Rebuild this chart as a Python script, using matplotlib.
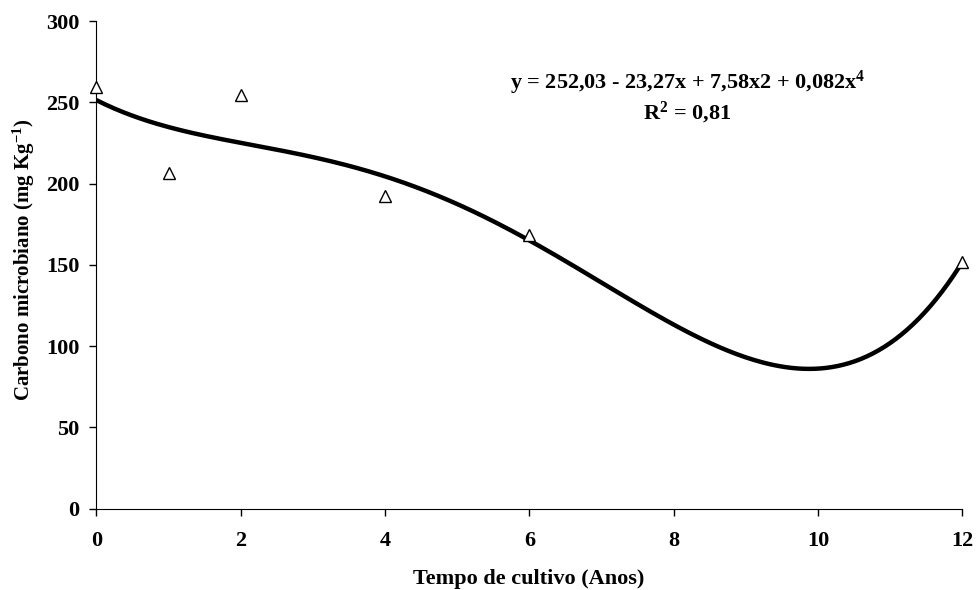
import numpy as np
import matplotlib.pyplot as plt

plt.rcParams['font.family'] = ['Liberation Serif', 'DejaVu Serif']
plt.rcParams['font.weight'] = 'bold'
plt.rcParams['mathtext.fontset'] = 'custom'
plt.rcParams['mathtext.rm'] = 'Liberation Serif:bold'
plt.rcParams['mathtext.default'] = 'rm'

# observed data
anos = [0, 1, 2, 4, 6, 12]
carbono = [259.5, 206.3, 254.4, 192.2, 168.3, 151.7]
x_ticks = [0, 2, 4, 6, 8, 10, 12]
y_ticks = [0, 50, 100, 150, 200, 250, 300]

# 4th order polynomial trendline fitted on the points
coef = np.polyfit(anos, carbono, 4)
xs = np.linspace(0, 12, 300)
ys = np.polyval(coef, xs)

fig = plt.figure(figsize=(9.79, 5.9), dpi=100)
ax = fig.add_axes([0.0984, 0.1378, 0.8846, 0.8266])

ax.plot(xs, ys, color='black', lw=3.2, zorder=2)
ax.plot(anos, carbono, linestyle='none', marker='^', markersize=8,
        markerfacecolor='white', markeredgecolor='black', markeredgewidth=1, zorder=3,
        clip_on=False)

ax.set_xlim(0, 12)
ax.set_ylim(0, 300)
ax.set_xticks(x_ticks)
ax.set_yticks(y_ticks)
ax.spines['top'].set_visible(False)
ax.spines['right'].set_visible(False)
ax.tick_params(direction='out', length=5, width=1, labelsize=16, pad=7)
ax.tick_params(axis='x', pad=11)

ax.set_xlabel('Tempo de cultivo (Anos)', fontsize=16, fontweight='bold')
ax.xaxis.set_label_coords(0.4997, -0.124)
ax.set_ylabel('Carbono microbiano (mg Kg$^{-1}$)', fontsize=15, fontweight='bold')
ax.yaxis.set_label_coords(-0.069, 0.51)

ax.text(8.19, 261.8, 'y = 252,03 - 23,27x + 7,58x2 + 0,082x$^{4}$', ha='center', va='center',
        fontsize=16, fontweight='bold')
ax.text(8.19, 243.4, 'R$^{2}$ = 0,81', ha='center', va='center', fontsize=16, fontweight='bold')

fig.savefig('out.png', dpi=100)
